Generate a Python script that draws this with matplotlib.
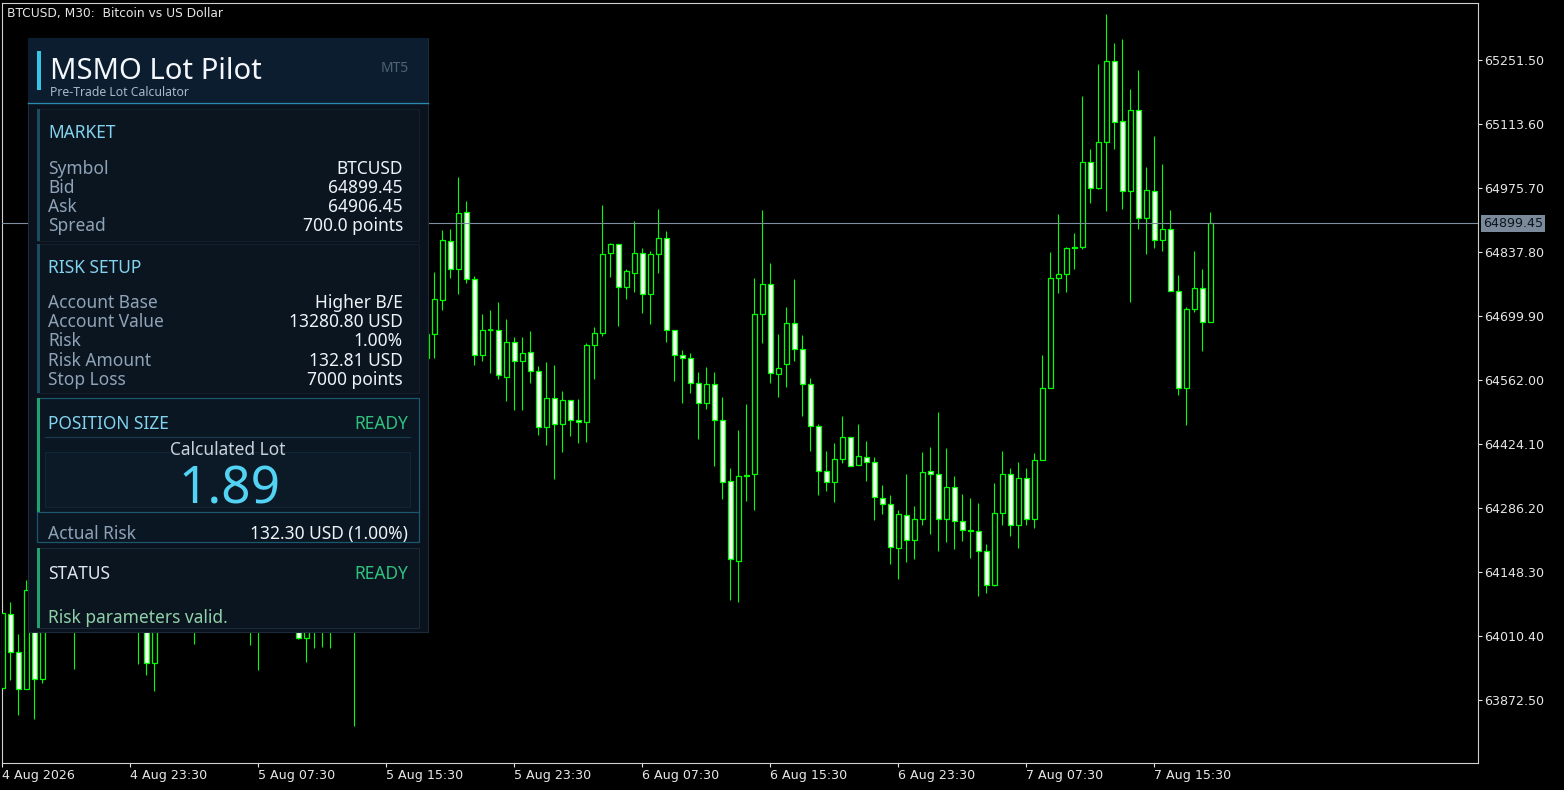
import matplotlib
matplotlib.use("Agg")
import matplotlib.pyplot as plt
from matplotlib.patches import Rectangle
from matplotlib.transforms import blended_transform_factory, offset_copy

# =====================================================
# DATA: BTCUSD M30 candles, 4 Aug 2026 15:30 -> 7 Aug 2026 19:00
# =====================================================
opens = [
    63897, 64058, 63975, 63895, 64108, 63916, 64040, 64085, 64130, 64050,
    64070, 64160, 64205, 64175, 64100, 64060, 64090, 64045, 64070, 63951,
    64040, 64135, 64190, 64160, 64090, 64030, 64105, 64180, 64230, 64190,
    64120, 64075, 64050, 64065, 64140, 64120, 64080, 64050, 64005, 64030,
    64040, 64025, 64080, 64160, 64110, 64060, 64170, 64270, 64320, 64400,
    64360, 64490, 64560, 64610, 64660, 64734, 64861, 64800, 64923, 64779,
    64615, 64669, 64669, 64569, 64643, 64602, 64621, 64580, 64460, 64522,
    64466, 64518, 64475, 64470, 64636, 64662, 64835, 64854, 64762, 64792,
    64835, 64746, 64833, 64867, 64669, 64615, 64610, 64555, 64511, 64552,
    64475, 64343, 64171, 64354, 64358, 64703, 64768, 64574, 64596, 64684,
    64628, 64552, 64462, 64365, 64341, 64391, 64438, 64378, 64395, 64384,
    64307, 64294, 64199, 64270, 64216, 64263, 64365, 64358, 64263, 64332,
    64257, 64238, 64236, 64194, 64119, 64274, 64360, 64248, 64350, 64261,
    64389, 64544, 64781, 64790, 64846, 64848, 65032, 64975, 65075, 65249,
    65120, 64969, 65143, 64910, 64970, 64863, 64888, 64753, 64544, 64714,
    64760, 64686,
]
highs = [
    64083, 64082, 64014, 64130, 64150, 64090, 64110, 64160, 64145, 64095,
    64180, 64230, 64260, 64190, 64140, 64120, 64110, 64085, 64100, 64060,
    64150, 64220, 64240, 64180, 64130, 64120, 64200, 64250, 64280, 64210,
    64150, 64110, 64095, 64160, 64210, 64170, 64110, 64090, 64060, 64080,
    64070, 64100, 64180, 64200, 64150, 64190, 64290, 64350, 64420, 64470,
    64520, 64590, 64640, 64690, 64795, 64885, 64887, 65000, 64948, 64786,
    64704, 64712, 64730, 64693, 64654, 64654, 64667, 64591, 64600, 64594,
    64538, 64519, 64521, 64641, 64675, 64939, 64856, 64854, 64800, 64904,
    64846, 64839, 64930, 64883, 64669, 64626, 64620, 64579, 64590, 64579,
    64524, 64371, 64454, 64509, 64781, 64928, 64813, 64660, 64718, 64779,
    64658, 64565, 64466, 64408, 64425, 64483, 64438, 64466, 64430, 64395,
    64335, 64313, 64281, 64358, 64289, 64406, 64417, 64492, 64414, 64354,
    64315, 64307, 64296, 64207, 64339, 64408, 64371, 64384, 64371, 64404,
    64615, 64837, 64919, 64848, 64878, 65173, 65059, 65242, 65350, 65288,
    65296, 65188, 65229, 65020, 65087, 65027, 64928, 64787, 64718, 64839,
    64800, 64923,
]
lows = [
    63890, 63915, 63839, 63895, 63831, 63909, 64025, 64060, 64030, 63938,
    64055, 64120, 64150, 64080, 64040, 64035, 64030, 63949, 63926, 63892,
    64030, 64110, 64140, 64070, 63992, 64025, 64090, 64160, 64170, 64100,
    64060, 63990, 63936, 64050, 64100, 64060, 64030, 64003, 63953, 63983,
    63987, 63983, 64060, 64090, 63815, 64040, 64150, 64220, 64300, 64330,
    64350, 64460, 64520, 64590, 64610, 64712, 64782, 64748, 64771, 64594,
    64603, 64577, 64564, 64517, 64498, 64498, 64556, 64444, 64422, 64349,
    64407, 64441, 64426, 64429, 64564, 64657, 64784, 64677, 64737, 64752,
    64705, 64683, 64793, 64644, 64560, 64513, 64534, 64434, 64500, 64377,
    64306, 64087, 64083, 64301, 64282, 64642, 64556, 64524, 64547, 64603,
    64483, 64409, 64313, 64322, 64298, 64382, 64376, 64378, 64343, 64260,
    64272, 64166, 64132, 64169, 64175, 64248, 64229, 64192, 64212, 64197,
    64214, 64177, 64097, 64102, 64117, 64248, 64225, 64199, 64248, 64242,
    64389, 64544, 64749, 64751, 64800, 64845, 64943, 64973, 64927, 65059,
    64930, 64729, 64887, 64833, 64846, 64839, 64753, 64529, 64464, 64708,
    64624, 64686,
]
closes = [
    64059, 63975, 63895, 64108, 63916, 64040, 64085, 64130, 64050, 64070,
    64160, 64205, 64175, 64100, 64060, 64090, 64045, 64070, 63951, 64040,
    64135, 64190, 64160, 64090, 64030, 64105, 64180, 64230, 64190, 64120,
    64075, 64050, 64065, 64140, 64120, 64080, 64050, 64005, 64030, 64040,
    64025, 64080, 64160, 64110, 64060, 64170, 64270, 64320, 64400, 64360,
    64490, 64560, 64610, 64660, 64736, 64863, 64800, 64921, 64779, 64616,
    64669, 64669, 64572, 64643, 64602, 64620, 64580, 64460, 64522, 64466,
    64518, 64475, 64470, 64636, 64662, 64833, 64854, 64762, 64796, 64835,
    64746, 64833, 64867, 64669, 64615, 64608, 64555, 64511, 64552, 64475,
    64341, 64175, 64354, 64356, 64703, 64768, 64576, 64587, 64684, 64628,
    64552, 64462, 64365, 64341, 64391, 64438, 64376, 64397, 64384, 64309,
    64294, 64201, 64272, 64216, 64263, 64363, 64358, 64263, 64332, 64257,
    64238, 64235, 64192, 64119, 64274, 64360, 64248, 64350, 64263, 64389,
    64544, 64781, 64790, 64846, 64848, 65032, 64975, 65074, 65249, 65117,
    64969, 65143, 64910, 64971, 64863, 64887, 64753, 64544, 64714, 64759,
    64686, 64899.45,
]

bid = 64899.45
price_ticks = [63872.50, 64010.40, 64148.30, 64286.20, 64424.10, 64562.00,
               64699.90, 64837.80, 64975.70, 65113.60, 65251.50]
time_tick_bars = [0, 16, 32, 48, 64, 80, 96, 112, 128, 144]
time_tick_labels = ["4 Aug 2026", "4 Aug 23:30", "5 Aug 07:30", "5 Aug 15:30",
                    "5 Aug 23:30", "6 Aug 07:30", "6 Aug 15:30", "6 Aug 23:30",
                    "7 Aug 07:30", "7 Aug 15:30"]

market_rows = [("Symbol", "BTCUSD"), ("Bid", "64899.45"),
               ("Ask", "64906.45"), ("Spread", "700.0 points")]
risk_rows = [("Account Base", "Higher B/E"), ("Account Value", "13280.80 USD"),
             ("Risk", "1.00%"), ("Risk Amount", "132.81 USD"),
             ("Stop Loss", "7000 points")]
calc_lot = "1.89"
actual_risk = "132.30 USD (1.00%)"
status_msg = "Risk parameters valid."

# -----------------------------------------------------
W, H = 1564, 790
GREEN = "#00ff00"
FG = "#e6e6e6"

fig = plt.figure(figsize=(W / 100, H / 100), dpi=100, facecolor="black")

# chart area in pixels: x 2..1478, y 3..763
ax = fig.add_axes([2 / W, (H - 763) / H, 1476 / W, 760 / H])
ax.set_facecolor("black")

n = len(opens)
xs = list(range(n))

# wicks
ax.vlines(xs, lows, highs, color=GREEN, linewidth=0.8, zorder=2)

# bodies: bull = black fill, bear = white fill
body_bottom = [min(o, c) for o, c in zip(opens, closes)]
body_height = [abs(c - o) for o, c in zip(opens, closes)]
fills = ["black" if c >= o else "white" for o, c in zip(opens, closes)]
ax.bar(xs, body_height, bottom=body_bottom, width=0.55, color=fills,
       edgecolor=GREEN, linewidth=0.9, zorder=3)
for i in range(n):
    if abs(closes[i] - opens[i]) < 3:
        ax.hlines(opens[i], i - 0.35, i + 0.35, color=GREEN, linewidth=1.2, zorder=4)

# bid line + label
ax.axhline(bid, color="#7f8fa0", linewidth=0.8, zorder=5)
trans = blended_transform_factory(ax.transAxes, ax.transData)
ax.text(1.0, bid, "%.2f" % bid, transform=offset_copy(trans, fig, x=5, units="dots"),
        ha="left", va="center", fontsize=9.1, family="DejaVu Sans", color="#0c141c",
        bbox=dict(boxstyle="square,pad=0.18", fc="#7a8a9a", ec="none"),
        clip_on=False, zorder=6)

ax.set_xlim(-0.04, 184.46)
ax.set_ylim(63735.9, 65374.4)

ax.yaxis.tick_right()
ax.set_yticks(price_ticks)
ax.set_yticklabels(["%.2f" % v for v in price_ticks])
ax.set_xticks(time_tick_bars)
ax.set_xticklabels(time_tick_labels)
for lab in ax.get_xticklabels():
    lab.set_horizontalalignment("left")
ax.tick_params(axis="both", colors=FG, labelcolor=FG, labelsize=9.1,
               length=3, width=0.8, pad=1.5)
for lab in ax.get_xticklabels() + ax.get_yticklabels():
    lab.set_family("DejaVu Sans")
for s in ax.spines.values():
    s.set_color("#d0d0d0")
    s.set_linewidth(0.8)

# -----------------------------------------------------
# overlay in pixel coordinates for the panel and title
# -----------------------------------------------------
ov = fig.add_axes([0, 0, 1, 1], zorder=10)
ov.set_xlim(0, W)
ov.set_ylim(H, 0)
ov.axis("off")
ov.patch.set_alpha(0)

PF = "Noto Sans"


def rect(x0, y0, x1, y1, fc, ec="none", lw=0.0):
    ov.add_patch(Rectangle((x0, y0), x1 - x0, y1 - y0, facecolor=fc,
                           edgecolor=ec, linewidth=lw))


def txt(x, y, s, size, color, ha="left", **kw):
    ov.text(x, y, s, fontsize=size, color=color, ha=ha, va="baseline",
            family=PF, **kw)


ov.text(7, 13, "BTCUSD, M30:  Bitcoin vs US Dollar", fontsize=8.8, color=FG,
        va="center", ha="left", family="DejaVu Sans")

# panel body + header
rect(28, 38, 428, 632, "#09121d", "#1c2b3a", 0.8)
rect(28.4, 38.4, 427.6, 102, "#0d1d30")
ov.plot([28.4, 427.6], [102.5, 102.5], color="#2a8cb0", linewidth=1.0)
rect(37, 51, 41, 90, "#38c5e8")
txt(50, 79, "MSMO Lot Pilot", 21, "#f4f8fc")
txt(50, 96.3, "Pre-Trade Lot Calculator", 8.8, "#a9b9c9")
txt(409, 72, "MT5", 10, "#4c6474", ha="right")

LABEL = "#8fa3b8"
VALUE = "#eef3f8"
HEAD = "#82d3ee"
READY = "#2fc27f"
ROWSZ = 12.5

# MARKET
rect(37, 109, 419, 241, "#0b1520", "#141f2b", 0.8)
rect(37, 109, 39.5, 241, "#1d4c62")
txt(48, 138, "MARKET", ROWSZ, HEAD)
for (lab, val), yb in zip(market_rows, [174, 193, 212, 231]):
    txt(48, yb, lab, ROWSZ, LABEL)
    txt(403, yb, val, ROWSZ, VALUE, ha="right")

# RISK SETUP
rect(37, 244, 419, 393, "#0b1520", "#141f2b", 0.8)
rect(37, 244, 39.5, 393, "#1d4c62")
txt(48, 273.3, "RISK SETUP", ROWSZ, HEAD)
for (lab, val), yb in zip(risk_rows, [308.3, 327.3, 346.5, 365.7, 385]):
    txt(48, yb, lab, ROWSZ, LABEL)
    txt(403, yb, val, ROWSZ, VALUE, ha="right")

# POSITION SIZE
rect(37, 398, 419, 542, "#0a1622", "#1b5870", 0.9)
rect(37, 398, 40, 512, "#21a070")
txt(48, 429, "POSITION SIZE", ROWSZ, HEAD)
txt(408, 429, "READY", ROWSZ, READY, ha="right")
ov.plot([45, 410], [436.7, 436.7], color="#1a3b4c", linewidth=0.9)
rect(45, 452, 410, 507, "#0c1a28", "#12283a", 0.6)
txt(228, 455.3, "Calculated Lot", ROWSZ, "#c8d2dc", ha="center")
txt(229, 503.3, calc_lot, 37, "#52d3f3", ha="center")
ov.plot([37, 419], [511.7, 511.7], color="#1b5870", linewidth=0.9)
txt(48, 538.7, "Actual Risk", ROWSZ, LABEL)
txt(408, 538.7, actual_risk, ROWSZ, VALUE, ha="right")

# STATUS
rect(37, 548, 419, 627.5, "#0b1520", "#1a2a38", 0.8)
rect(37, 548, 40, 627.5, "#21a070")
txt(48, 578.7, "STATUS", ROWSZ, "#dfe6ee")
txt(408, 578.7, "READY", ROWSZ, READY, ha="right")
txt(48, 622.7, status_msg, ROWSZ, "#8fd0a8")

fig.savefig("out.png", dpi=100, facecolor="black")
